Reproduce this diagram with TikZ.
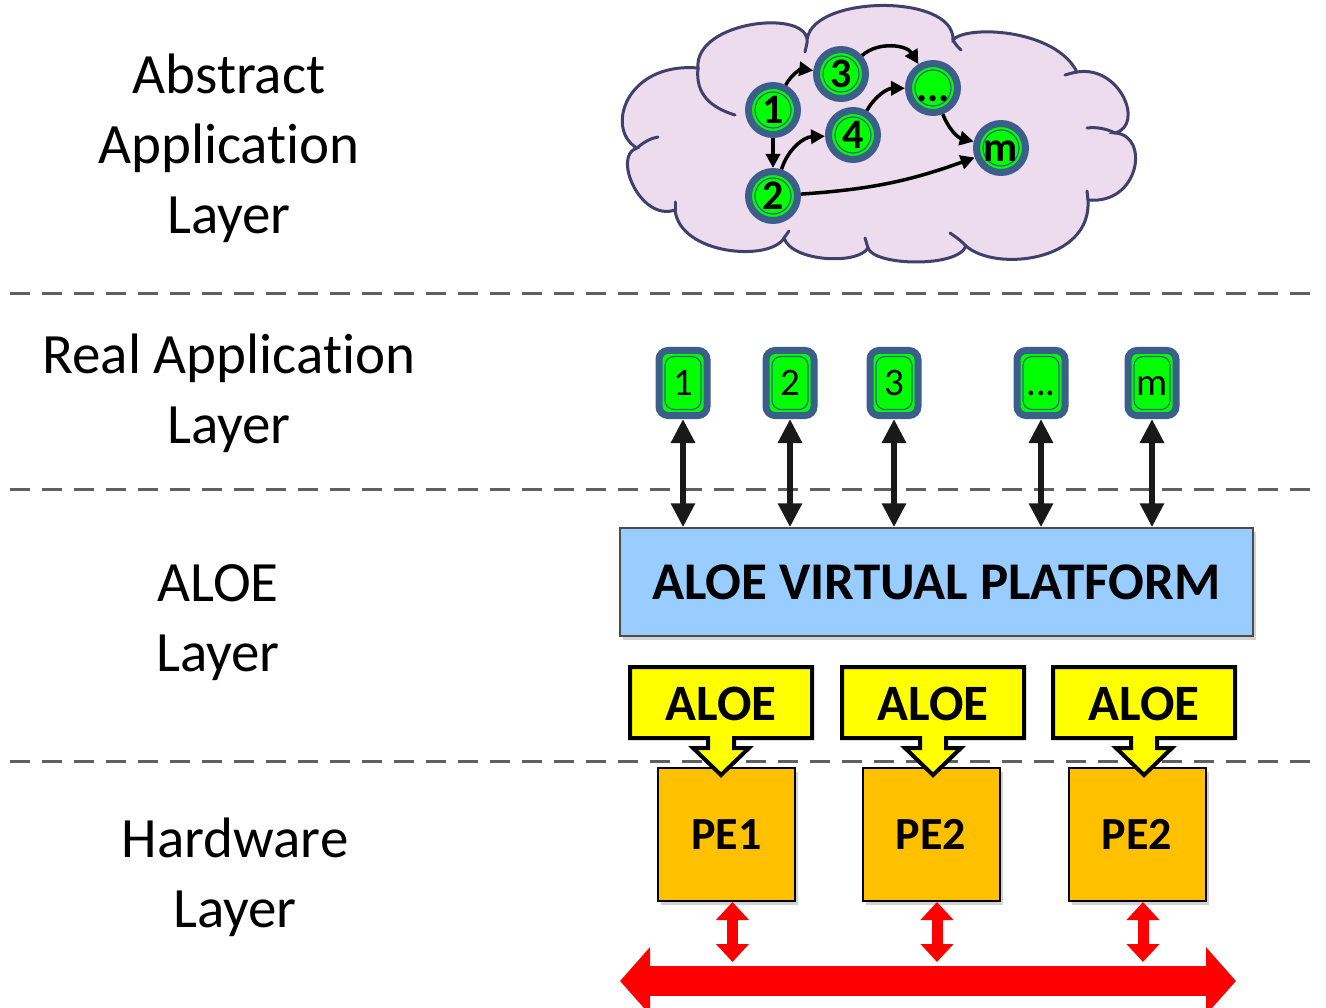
\documentclass[tikz,border=0pt]{standalone}
\usepackage{fontspec}
\setmainfont{Carlito}[Ligatures=NoCommon]
\usetikzlibrary{arrows.meta,shadows}
\definecolor{nblue}{RGB}{59,94,138}
\definecolor{lgreen}{RGB}{0,255,0}
\definecolor{cloudfill}{RGB}{236,220,238}
\definecolor{cloudline}{RGB}{64,64,108}
\definecolor{platblue}{RGB}{153,204,255}
\definecolor{yel}{RGB}{255,255,0}
\definecolor{peorange}{RGB}{255,192,0}
\definecolor{dashgray}{RGB}{95,95,95}
\tikzset{
  lbl/.style={align=center, font=\fontsize{57}{70}\selectfont},
  dl/.style={draw=dashgray, line width=3pt, dash pattern=on 20pt off 12pt},
  cloudln/.style={draw=cloudline, line width=3pt, line cap=round},
  cn/.style={circle, draw=nblue, line width=7pt, fill=lgreen, minimum size=49pt, inner sep=0pt,
    font=\fontsize{42}{42}\selectfont\bfseries, execute at begin node=\vphantom{1},
    path picture={\draw[nblue,line width=1.2pt] (path picture bounding box.center) circle (18);}},
  rn/.style={rectangle, rounded corners=9pt, draw=nblue, line width=7pt, fill=lgreen,
    minimum width=48pt, minimum height=65pt, inner sep=0pt,
    font=\fontsize{39}{39}\selectfont, execute at begin node=\vphantom{1},
    path picture={\draw[nblue,line width=1.2pt] ([shift={(6,6)}]path picture bounding box.north west) rectangle ([shift={(-6,-6)}]path picture bounding box.south east);}},
  ce/.style={-{Triangle[length=14pt,width=14pt]}, line width=3.5pt, black},
  ba/.style={{Triangle[length=24pt,width=23pt]}-{Triangle[length=24pt,width=23pt]}, line width=6pt, black!90},
  pe/.style={rectangle, draw=black, line width=2pt, fill=peorange, minimum width=137pt, minimum height=133pt,
    font=\fontsize{46}{46}\selectfont\bfseries, drop shadow={shadow xshift=3pt, shadow yshift=-4pt, opacity=0.35}},
  yelbox/.style={draw=black, line width=4pt, fill=yel, line join=miter},
  ra/.style={{Triangle[length=18pt,width=32pt]}-{Triangle[length=18pt,width=32pt]}, line width=11pt, red},
}
\begin{document}
\begin{tikzpicture}[x=1pt,y=-1pt]
\clip (0,0) rectangle (1326,1008);
\fill[white] (0,0) rectangle (1326,1008);

% dashed separators
\draw[dl] (10,294) -- (1316,294);
\draw[dl] (10,489) -- (1316,489);
\draw[dl] (10,761) -- (1316,761);

% left labels
\node[lbl] (l1) at (229,148) {Abstract\\Application\\Layer};
\node[lbl] (l2) at (229,393) {Real Application\\Layer};
\node[lbl] (l3) at (218,623) {ALOE\\Layer};
\node[lbl] (l4) at (235,877) {Hardware\\Layer};

% cloud outline
\path[cloudln, fill=cloudfill]
  (698,68) .. controls (694,20) and (812,8) .. (807,43)
  .. controls (805,-5) and (955,-8) .. (953,40)
  .. controls (965,25) and (1055,28) .. (1077,72)
  .. controls (1120,65) and (1145,125) .. (1115,133)
  .. controls (1150,135) and (1140,205) .. (1088,200)
  .. controls (1092,262) and (995,272) .. (966,246)
  .. controls (958,268) and (874,266) .. (868,248)
  .. controls (858,265) and (792,262) .. (784,238)
  .. controls (770,262) and (680,255) .. (675,210)
  .. controls (640,222) and (612,155) .. (637,148)
  .. controls (605,130) and (625,62) .. (698,68) -- cycle;
% inner arcs of the cloud
\draw[cloudln] (698,68) .. controls (695,95) and (712,108) .. (735,115);
\draw[cloudln] (807,43) .. controls (806,47) .. (805,52);
\draw[cloudln] (953,40) .. controls (956,45) .. (961,50);
\draw[cloudln] (1077,72) .. controls (1072,73) .. (1065,75);
\draw[cloudln] (1115,133) .. controls (1105,128) and (1095,127) .. (1087,128);
\draw[cloudln] (1088,200) .. controls (1088,196) .. (1087,191);
\draw[cloudln] (966,246) .. controls (960,240) .. (950,233);
\draw[cloudln] (868,248) .. controls (867,243) .. (865,238);
\draw[cloudln] (784,238) .. controls (786,235) .. (789,231);
\draw[cloudln] (675,210) .. controls (675,207) .. (675,202);
\draw[cloudln] (637,148) .. controls (645,141) and (652,138) .. (658,137);

% abstract graph
\node[cn] (n1) at (773,110) {1};
\node[cn] (n3) at (841,74) {3};
\node[cn] (n4) at (853,135) {4};
\node[cn] (n5) at (933,88) {...};
\node[cn] (nm) at (1001,148) {m};
\node[cn] (n2) at (773,196) {2};
\draw[ce] (n1) to[bend left=35] (n3);
\draw[ce] (n1) -- (n2);
\draw[ce] (n2) to[bend left=35] (n4);
\draw[ce] (n4) to[bend left=30] (n5);
\draw[ce] (n3) to[bend left=50] (n5);
\draw[ce] (n5) to[bend right=28] (nm);
\draw[ce] (n2) to[bend right=8] (nm);

% real application
\node[rn] (r1) at (683,383) {1};
\node[rn] (r2) at (790,383) {2};
\node[rn] (r3) at (894,383) {3};
\node[rn] (r4) at (1041,383) {...};
\node[rn] (r5) at (1152,383) {m};

% platform
\node[draw=black!70, line width=1.5pt, fill=platblue, minimum width=633pt, minimum height=108pt,
      font=\fontsize{53}{53}\selectfont\bfseries,
      drop shadow={shadow xshift=3pt, shadow yshift=-4pt, opacity=0.35}] (plat) at (936.5,582) {ALOE VIRTUAL PLATFORM};
\foreach \n in {r1,r2,r3,r4,r5}
  \draw[ba] (\n.south) -- (\n.south |- plat.north);

% PE boxes
\node[pe] (p1) at (726.5,834.5) {PE1};
\node[pe] (p2) at (931,834.5) {PE2};
\node[pe] (p3) at (1137,834.5) {PE2};

% ALOE callouts
\foreach \cx/\nm in {721/a1, 933/a2, 1144/a3} {
  \draw[yelbox] (\cx-91,667) -- (\cx+91,667) -- (\cx+91,738) -- (\cx+13,738) -- (\cx+13,748)
     -- (\cx+28,748) -- (\cx,775) -- (\cx-28,748) -- (\cx-13,748) -- (\cx-13,738) -- (\cx-91,738) -- cycle;
  \node[font=\fontsize{51}{51}\selectfont\bfseries] (\nm) at (\cx,704) {ALOE};
}

% bus
\coordinate (busL) at (620,981);
\coordinate (busR) at (1236,981);
\coordinate (bustop) at (0,962);
\draw[line width=30pt, red, {Triangle[length=30pt,width=66pt]}-{Triangle[length=30pt,width=66pt]}] (busL) -- (busR);
\foreach \p in {p1,p2,p3}
  \draw[ra] ([xshift=6pt]\p.south) -- ([xshift=6pt]\p.south |- bustop);
\end{tikzpicture}
\end{document}
